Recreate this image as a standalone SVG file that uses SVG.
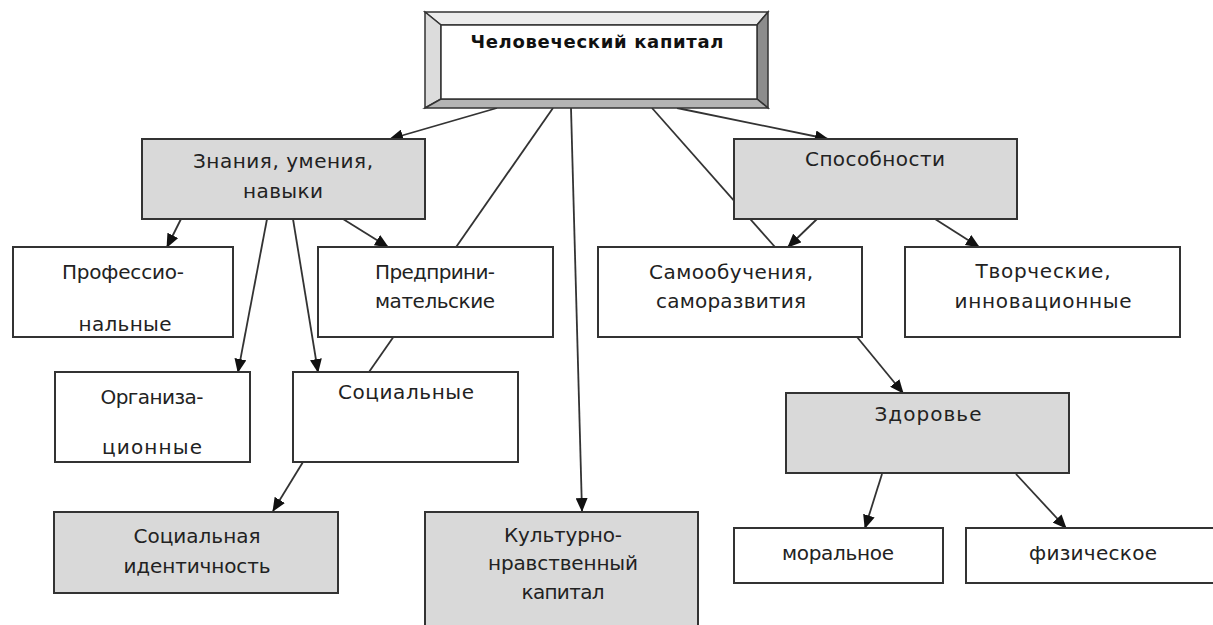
<svg xmlns="http://www.w3.org/2000/svg" width="1213" height="625" viewBox="0 0 1213 625">
<style>
.box{stroke:#333;stroke-width:2;fill:#fff}
.g{fill:#d9d9d9}
.t{font-family:"DejaVu Sans",Verdana,sans-serif;font-size:20px;fill:#222;text-anchor:middle}
.tb{font-family:"DejaVu Sans",Verdana,sans-serif;font-size:18px;font-weight:bold;fill:#111;text-anchor:middle}
.c{stroke:#333;stroke-width:1.8;fill:none}
.a{marker-end:url(#ah)}
</style>
<defs>
<marker id="ah" markerUnits="userSpaceOnUse" markerWidth="14" markerHeight="12" viewBox="0 0 14 12" refX="13" refY="6" orient="auto">
<path d="M0,0 L14,6 L0,12 Z" fill="#111"/>
</marker>
</defs>
<rect width="1213" height="625" fill="#fff"/>
<g id="connectors">
<line class="c a" x1="497" y1="108" x2="390" y2="139"/>
<line class="c" x1="553" y1="108" x2="369" y2="372"/>
<line class="c a" x1="571" y1="108" x2="582" y2="511"/>
<line class="c" x1="652" y1="108" x2="775" y2="247"/>
<line class="c a" x1="677" y1="108" x2="828" y2="139"/>
<line class="c a" x1="181" y1="219" x2="167" y2="247"/>
<line class="c a" x1="267" y1="219" x2="238" y2="372"/>
<line class="c a" x1="293" y1="219" x2="318" y2="372"/>
<line class="c a" x1="343" y1="219" x2="388" y2="247"/>
<line class="c a" x1="303" y1="462" x2="273" y2="511"/>
<line class="c a" x1="817" y1="219" x2="788" y2="247"/>
<line class="c a" x1="935" y1="219" x2="979" y2="247"/>
<line class="c a" x1="857" y1="337" x2="903" y2="393"/>
<line class="c a" x1="882" y1="474" x2="865" y2="528"/>
<line class="c a" x1="1016" y1="474" x2="1066" y2="528"/>
</g>
<g id="n-human-capital">
<polygon points="425,12 768,12 757,25 441,25" fill="#ececec" stroke="#333" stroke-width="1.5"/>
<polygon points="425,12 441,25 441,99 425,108" fill="#dcdcdc" stroke="#333" stroke-width="1.5"/>
<polygon points="768,12 768,108 757,99 757,25" fill="#8c8c8c" stroke="#333" stroke-width="1.5"/>
<polygon points="425,108 768,108 757,99 441,99" fill="#b4b4b4" stroke="#333" stroke-width="1.5"/>
<rect x="441" y="25" width="316" height="74" fill="#fff" stroke="#333" stroke-width="1.5"/>
<text class="tb" x="597" y="48" textLength="253">Человеческий капитал</text>
</g>
<g id="n-knowledge">
<rect class="box g" x="142" y="139" width="283" height="80"/>
<text class="t" x="283" y="168" textLength="180">Знания, умения,</text>
<text class="t" x="283" y="198" textLength="80">навыки</text>
</g>
<g id="n-abilities">
<rect class="box g" x="734" y="139" width="283" height="80"/>
<text class="t" x="875" y="166" textLength="140">Способности</text>
</g>
<g id="n-professional">
<rect class="box" x="13" y="247" width="220" height="90"/>
<text class="t" x="123" y="279" textLength="122">Профессио-</text>
<text class="t" x="125" y="331" textLength="93">нальные</text>
</g>
<g id="n-entrepreneurial">
<rect class="box" x="318" y="247" width="235" height="90"/>
<text class="t" x="435" y="279" textLength="120">Предприни-</text>
<text class="t" x="435" y="308" textLength="120">мательские</text>
</g>
<g id="n-selflearning">
<rect class="box" x="598" y="247" width="264" height="90"/>
<text class="t" x="731" y="279" textLength="164">Самообучения,</text>
<text class="t" x="731" y="308" textLength="150">саморазвития</text>
</g>
<g id="n-creative">
<rect class="box" x="905" y="247" width="275" height="90"/>
<text class="t" x="1043" y="278" textLength="135">Творческие,</text>
<text class="t" x="1043" y="308" textLength="177">инновационные</text>
</g>
<g id="n-organizational">
<rect class="box" x="55" y="372" width="195" height="90"/>
<text class="t" x="152" y="404" textLength="103">Организа-</text>
<text class="t" x="152" y="454" textLength="100">ционные</text>
</g>
<g id="n-social">
<rect class="box" x="293" y="372" width="225" height="90"/>
<text class="t" x="406" y="399" textLength="136">Социальные</text>
</g>
<g id="n-health">
<rect class="box g" x="786" y="393" width="283" height="80"/>
<text class="t" x="928" y="421" textLength="107">Здоровье</text>
</g>
<g id="n-social-identity">
<rect class="box g" x="54" y="512" width="284" height="81"/>
<text class="t" x="197" y="543" textLength="127">Социальная</text>
<text class="t" x="197" y="573" textLength="147">идентичность</text>
</g>
<g id="n-cultural">
<rect class="box g" x="425" y="512" width="273" height="125"/>
<text class="t" x="563" y="542" textLength="118">Культурно-</text>
<text class="t" x="563" y="570" textLength="150">нравственный</text>
<text class="t" x="563" y="599" textLength="83">капитал</text>
</g>
<g id="n-moral">
<rect class="box" x="734" y="528" width="209" height="55"/>
<text class="t" x="838" y="560" textLength="112">моральное</text>
</g>
<g id="n-physical">
<rect class="box" x="966" y="528" width="256" height="55"/>
<text class="t" x="1093" y="560" textLength="128">физическое</text>
</g>
</svg>
